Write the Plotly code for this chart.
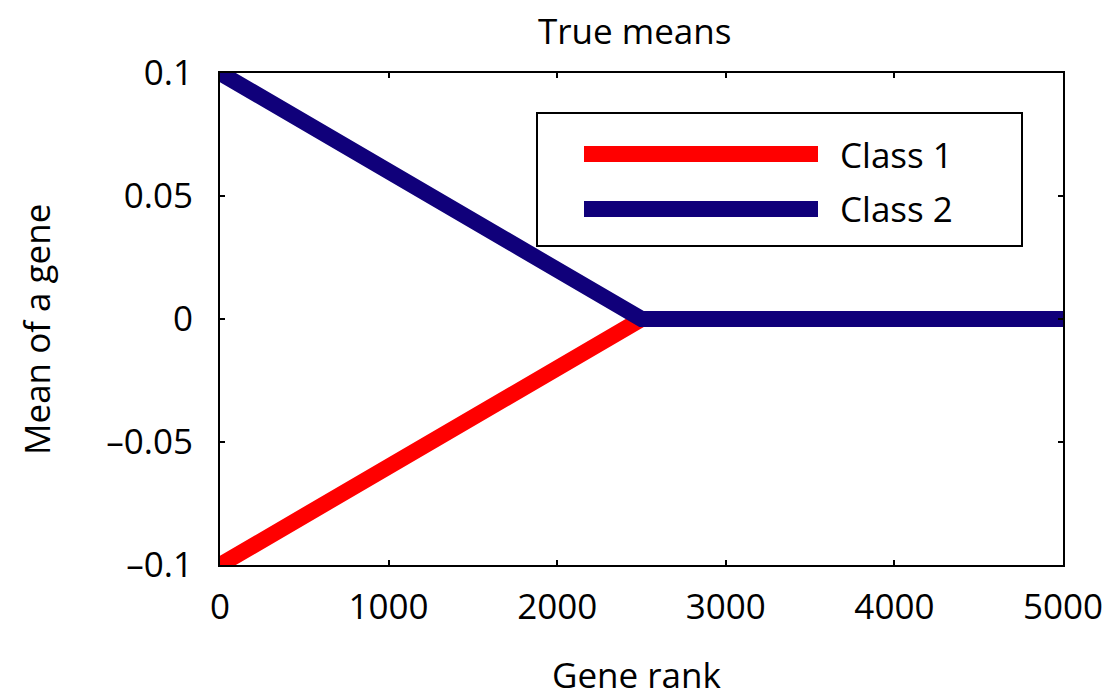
import plotly.graph_objects as go

# Gene rank breakpoints and the true class means at those ranks
gene_rank = [0, 2500, 5000]
class1_mean = [-0.1, 0.0, 0.0]
class2_mean = [0.1, 0.0, 0.0]

x_ticks = [0, 1000, 2000, 3000, 4000, 5000]
y_ticks = [-0.1, -0.05, 0, 0.05, 0.1]
y_tick_text = ["\u20130.1", "\u20130.05", "0", "0.05", "0.1"]

series = [("Class 1", class1_mean, "#ff0000"), ("Class 2", class2_mean, "#10007a")]

FONT = "Open Sans"
FS = 35

fig = go.Figure()
for name, vals, color in series:
    fig.add_trace(go.Scatter(x=gene_rank, y=vals, mode="lines", name=name,
                             line=dict(color=color, width=16), showlegend=False))

L, R, T, B = 220, 41, 73, 133
W, H = 1104, 698
pw, ph = W - L - R, H - T - B

def px(x):
    return (x - L) / pw

def py(y):
    return (H - B - y) / ph

shapes = [dict(type="rect", xref="paper", yref="paper", x0=px(537), x1=px(1022),
               y0=py(246), y1=py(113), line=dict(color="black", width=2),
               fillcolor="white", layer="above")]
annotations = []
for i, (name, vals, color) in enumerate(series):
    yy = py(154 + 55 * i)
    shapes.append(dict(type="line", xref="paper", yref="paper", x0=px(584), x1=px(818),
                       y0=yy, y1=yy, line=dict(color=color, width=16), layer="above"))
    annotations.append(dict(text=name, xref="paper", yref="paper", x=px(838), y=yy,
                            xanchor="left", yanchor="middle", showarrow=False,
                            font=dict(family=FONT, size=FS, color="black")))

annotations += [
    dict(text="True means", xref="paper", yref="paper", x=px(634), y=py(30),
         xanchor="center", yanchor="middle", showarrow=False,
         font=dict(family=FONT, size=FS, color="black")),
    dict(text="Gene rank", xref="paper", yref="paper", x=px(637), y=py(674),
         xanchor="center", yanchor="middle", showarrow=False,
         font=dict(family=FONT, size=FS, color="black")),
    dict(text="Mean of a gene", xref="paper", yref="paper", x=px(36), y=py(330),
         xanchor="center", yanchor="middle", showarrow=False, textangle=-90,
         font=dict(family=FONT, size=FS, color="black")),
]

axis_common = dict(showline=True, linecolor="black", linewidth=2, mirror="ticks",
                   ticks="inside", ticklen=5, tickwidth=2, tickcolor="black",
                   showgrid=False, zeroline=False, ticklabeloverflow="allow",
                   automargin=False,
                   tickfont=dict(family=FONT, size=FS, color="black"))

fig.update_layout(
    width=W, height=H,
    margin=dict(l=L, r=R, t=T, b=B),
    paper_bgcolor="white", plot_bgcolor="white",
    xaxis=dict(range=[0, 5000], tickvals=x_ticks, ticklabelstandoff=10, **axis_common),
    yaxis=dict(range=[-0.1, 0.1], tickvals=y_ticks, ticktext=y_tick_text,
               ticklabelstandoff=18, **axis_common),
    shapes=shapes, annotations=annotations,
)

fig.write_html("out.html")
